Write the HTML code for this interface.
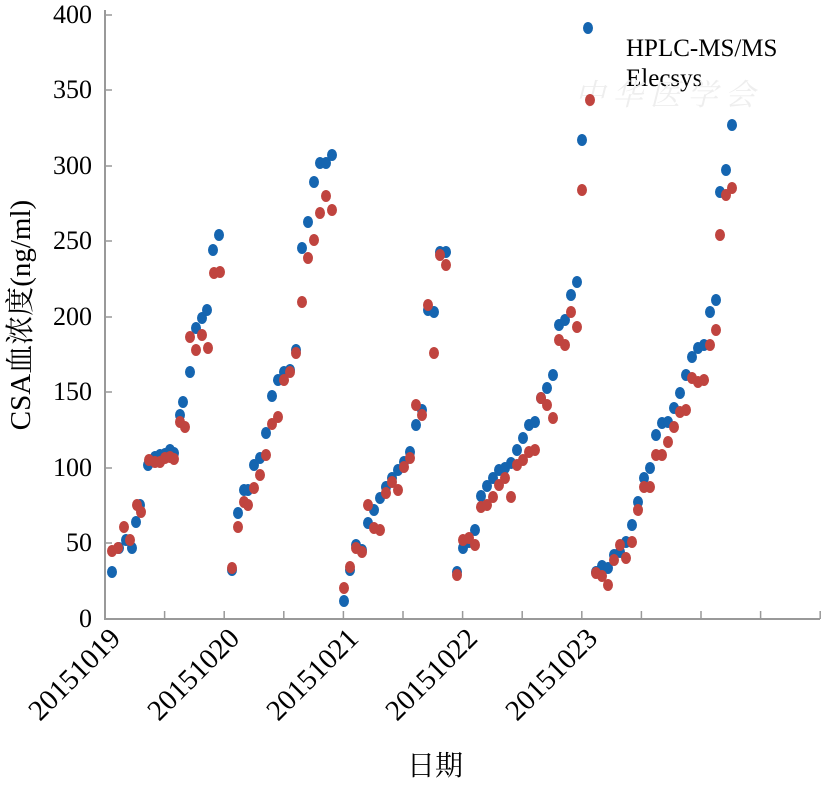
<!DOCTYPE html>
<html><head><meta charset="utf-8"><style>
body{margin:0;background:#fff}
svg text{font-family:"Liberation Serif","Noto Serif CJK SC",serif;fill:#000}
</style></head><body>
<svg id="s" width="827" height="780" xmlns="http://www.w3.org/2000/svg">
<g stroke="#999" stroke-width="2" fill="none">
<line x1="105" y1="10" x2="105" y2="619"/>
<line x1="104" y1="619" x2="820" y2="619"/>
</g>
<g id="ticks" stroke="#999" stroke-width="1.5"></g>
<g font-size="26" text-anchor="end" id="yl2"></g>
<g font-size="29" text-anchor="end">
<text transform="translate(122,640) rotate(-45)">20151019</text>
<text transform="translate(241,640) rotate(-45)">20151020</text>
<text transform="translate(360,640) rotate(-45)">20151021</text>
<text transform="translate(479,640) rotate(-45)">20151022</text>
<text transform="translate(599,640) rotate(-45)">20151023</text>
</g>
<text x="435" y="775" font-size="28" text-anchor="middle">日期</text>
<text transform="translate(30,315) rotate(-90)" font-size="29" text-anchor="middle">CSA血浓度(ng/ml)</text>
<text x="626" y="56" font-size="25">HPLC-MS/MS</text>
<text x="626" y="86" font-size="25">Elecsys</text>
<text x="575" y="105" font-size="30" style="fill:#eeeeee;font-style:italic">中 华 医 学 会</text>
<g id="pts"></g>
</svg>
<script>
var ns="http://www.w3.org/2000/svg";
var t=document.getElementById("ticks");
for(var i=0;i<13;i++){var x=105+i*59.6;var l=document.createElementNS(ns,"line");l.setAttribute("x1",x);l.setAttribute("x2",x);l.setAttribute("y1",611);l.setAttribute("y2",619);t.appendChild(l);}
[[0,619],[50,543],[100,468],[150,392],[200,317],[250,241],[300,166],[350,90],[400,15]].forEach(function(p){var l=document.createElementNS(ns,"line");l.setAttribute("x1",105);l.setAttribute("x2",112);l.setAttribute("y1",p[1]);l.setAttribute("y2",p[1]);t.appendChild(l);});
var yl=document.getElementById("yl2");
[[0,627],[50,551],[100,476],[150,400],[200,325],[250,249],[300,174],[350,98],[400,23]].forEach(function(p){var e=document.createElementNS(ns,"text");e.setAttribute("x",92);e.setAttribute("y",p[1]);e.textContent=p[0];yl.appendChild(e);});
var B=[[112,572],[119,548],[126,540],[132,548],[136,522],[140,505],[148,465],[155,457],[160,455],[165,454],[170,450],[174,453],[180,415],[183,402],[190,372],[196,328],[202,318],[207,310],[213,250],[219,235],
[232,570],[238,513],[244,490],[248,490],[254,465],[260,458],[266,433],[272,396],[278,380],[284,372],[290,370],[296,350],[302,248],[308,222],[314,182],[320,163],[326,163],[332,155],
[344,601],[350,570],[356,545],[362,550],[368,523],[374,510],[380,498],[386,487],[392,478],[398,470],[404,462],[410,452],[416,425],[422,410],[428,310],[434,312],[440,252],[446,252],
[457,572],[463,548],[469,542],[475,530],[481,496],[487,486],[493,478],[499,470],[505,468],[511,463],[517,450],[523,438],[529,425],[535,422],[541,398],[547,388],[553,375],[559,325],[565,320],[571,295],[577,282],[582,140],
[596,572],[602,566],[608,568],[614,555],[620,552],[626,542],[632,525],[638,502],[644,478],[650,468],[656,435],[662,423],[668,422],[674,408],[680,393],[686,375],[692,357],[698,348],[704,345],[710,312],[716,300],[720,192],[726,170],[732,125],[588,28]];
var R=[[112,551],[118,548],[124,527],[130,540],[137,505],[141,512],[149,460],[155,462],[160,462],[165,458],[170,457],[174,459],[180,422],[185,427],[190,337],[196,350],[202,335],[208,348],[214,273],[220,272],
[232,568],[238,527],[244,502],[248,505],[254,488],[260,475],[266,455],[272,424],[278,417],[284,380],[290,372],[296,353],[302,302],[308,258],[314,240],[320,213],[326,196],[332,210],
[344,588],[350,567],[356,548],[362,552],[368,505],[374,528],[380,530],[386,493],[392,482],[398,490],[404,467],[410,458],[416,405],[422,415],[428,305],[434,353],[440,255],[446,265],
[457,575],[463,540],[469,538],[475,545],[481,507],[487,505],[493,497],[499,485],[505,478],[511,497],[517,465],[523,460],[529,452],[535,450],[541,398],[547,405],[553,418],[559,340],[565,345],[571,312],[577,327],[582,190],
[596,573],[602,576],[608,585],[614,560],[620,545],[626,558],[632,542],[638,510],[644,487],[650,487],[656,455],[662,455],[668,442],[674,427],[680,412],[686,410],[692,378],[698,382],[704,380],[710,345],[716,330],[720,235],[726,195],[732,188],[590,100]];
var g=document.getElementById("pts");
function add(a,c){a.forEach(function(p){var e=document.createElementNS(ns,"ellipse");e.setAttribute("cx",p[0]);e.setAttribute("cy",p[1]);e.setAttribute("rx",5);e.setAttribute("ry",6);e.setAttribute("fill",c);g.appendChild(e);});}
add(B,"#1565b0");add(R,"#c0443f");
</script>
</body></html>
